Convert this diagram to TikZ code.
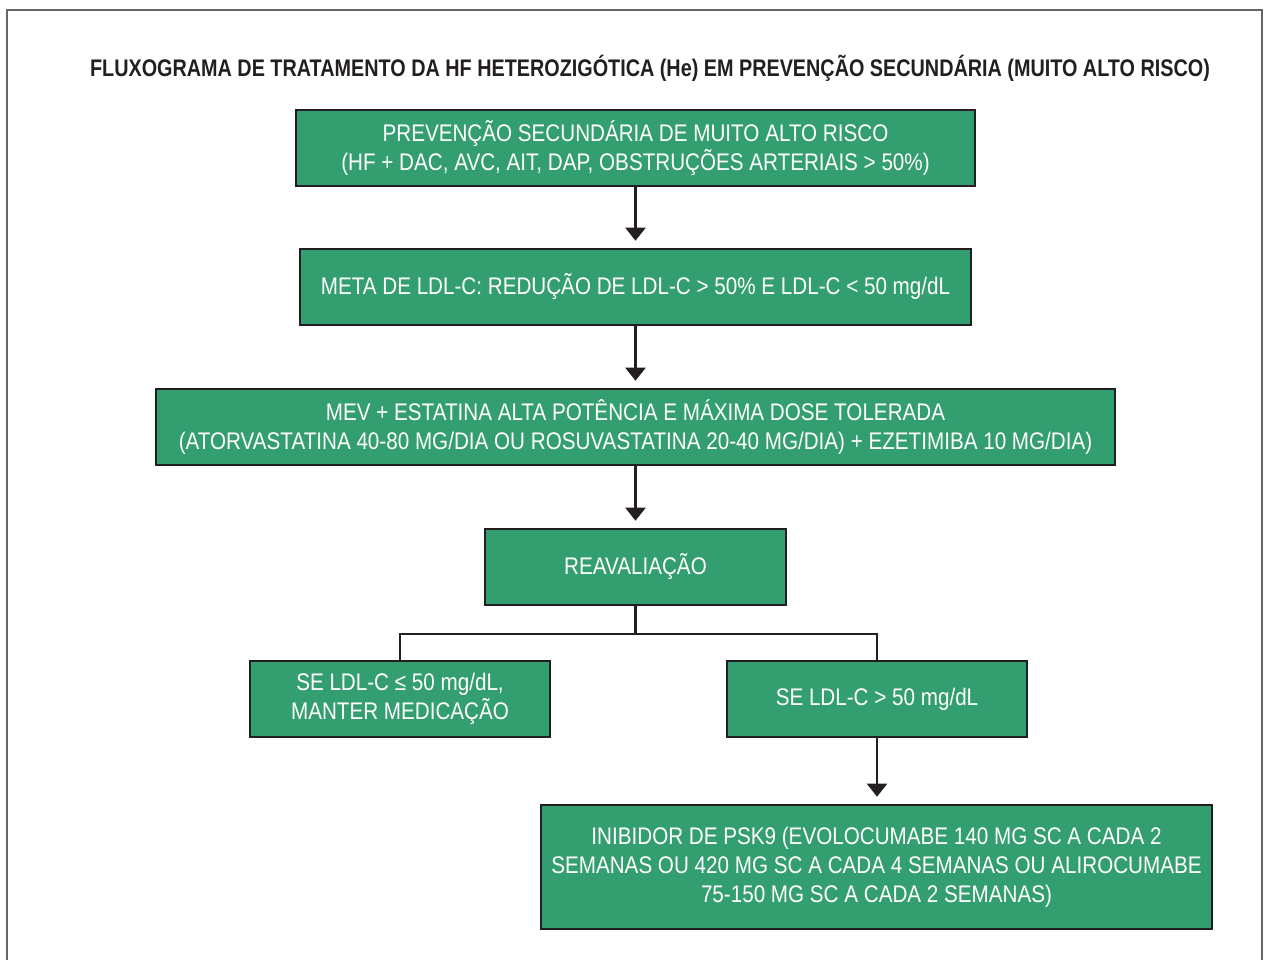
\documentclass[tikz,border=0pt]{standalone}
\usepackage{fontspec}
\setmainfont[FakeStretch=0.86]{Liberation Sans}
\newfontfamily\titlefont[FakeStretch=0.825]{Liberation Sans}
\usetikzlibrary{arrows.meta}
\definecolor{boxgreen}{RGB}{51,158,112}
\definecolor{edgecol}{RGB}{35,31,32}
\begin{document}
\begin{tikzpicture}[x=1pt,y=-1pt,
  box/.style={draw=edgecol, line width=2.6pt, fill=boxgreen, text=white, align=center, inner sep=0pt, font=\fontsize{24}{29}\selectfont},
  conn/.style={draw=edgecol, line width=2.2pt},
  arr/.style={conn, -{Triangle[length=13pt,width=20pt]}, shorten >=7pt}]
\useasboundingbox (0,0) rectangle (1264,960);
\draw[gray!80!black, line width=1.2pt] (7,960) -- (7,10) -- (1262,10) -- (1262,960);
\node[font=\titlefont\bfseries\fontsize{24}{28}\selectfont, text=edgecol] (title) at (650,68) {FLUXOGRAMA DE TRATAMENTO DA HF HETEROZIGÓTICA (He) EM PREVENÇÃO SECUNDÁRIA (MUITO ALTO RISCO)};
\node[box, minimum width=679pt, minimum height=76pt] (b1) at (635.5,148) {PREVENÇÃO SECUNDÁRIA DE MUITO ALTO RISCO\\(HF + DAC, AVC, AIT, DAP, OBSTRUÇÕES ARTERIAIS > 50\%)};
\node[box, minimum width=671pt, minimum height=76pt] (b2) at (635.5,287) {META DE LDL-C: REDUÇÃO DE LDL-C > 50\% E LDL-C < 50 mg/dL};
\node[box, minimum width=959pt, minimum height=76pt] (b3) at (635.5,427) {MEV + ESTATINA ALTA POTÊNCIA E MÁXIMA DOSE TOLERADA\\(ATORVASTATINA 40-80 MG/DIA OU ROSUVASTATINA 20-40 MG/DIA) + EZETIMIBA 10 MG/DIA)};
\node[box, minimum width=301pt, minimum height=76pt] (b4) at (635.5,567) {REAVALIAÇÃO};
\node[box, minimum width=300pt, minimum height=76pt] (b5) at (400,699) {SE LDL-C ≤ 50 mg/dL,\\MANTER MEDICAÇÃO};
\node[box, minimum width=300pt, minimum height=76pt] (b6) at (877,699) {SE LDL-C > 50 mg/dL};
\node[box, minimum width=671pt, minimum height=124pt] (b7) at (876.5,867) {INIBIDOR DE PSK9 (EVOLOCUMABE 140 MG SC A CADA 2\\SEMANAS OU 420 MG SC A CADA 4 SEMANAS OU ALIROCUMABE\\75-150 MG SC A CADA 2 SEMANAS)};
\draw[arr] (b1) -- (b2);
\draw[arr] (b2) -- (b3);
\draw[arr] (b3) -- (b4);
\draw[conn] (b4.south) -- ++(0,28) coordinate (j) -| (b5.north);
\draw[conn] (j) -| (b6.north);
\draw[arr] (b6.south) -- (b6.south |- b7.north);
\end{tikzpicture}
\end{document}
